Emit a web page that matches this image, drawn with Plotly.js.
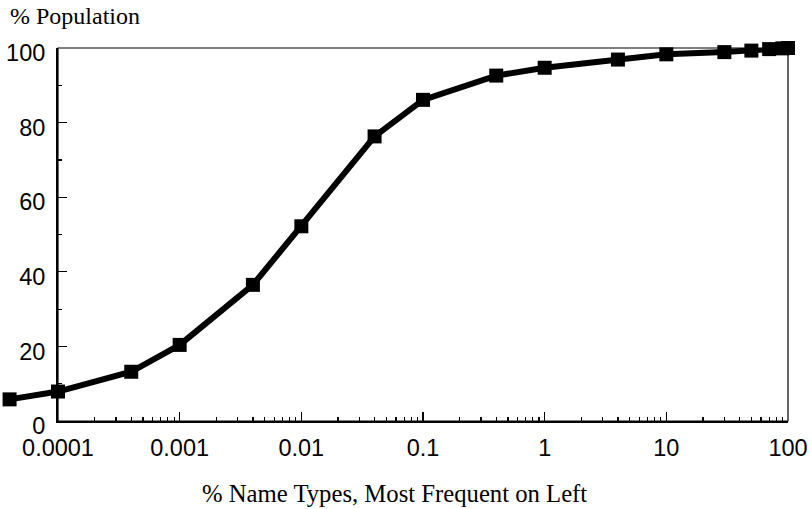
<!DOCTYPE html>
<html>
<head>
<meta charset="utf-8">
<script src="https://cdn.plot.ly/plotly-3.0.1.min.js"></script>
<style>
html,body{margin:0;padding:0;background:#fff;}
#chart{width:812px;height:509px;}
</style>
</head>
<body>
<div id="chart"></div>
<script>
// Data
const nameTypesPct = [0.00004, 0.0001, 0.0004, 0.001, 0.004, 0.01, 0.04, 0.1, 0.4, 1, 4, 10, 30, 50, 70, 90, 100];
const populationPct = [5.8, 7.9, 13.2, 20.4, 36.5, 52.2, 76.3, 86.1, 92.6, 94.7, 96.9, 98.3, 98.9, 99.3, 99.7, 99.9, 100];
const xTickVals = [0.0001, 0.001, 0.01, 0.1, 1, 10, 100];
const xTickText = ['0.0001', '0.001', '0.01', '0.1', '1', '10', '100'];
const yTickVals = [0, 20, 40, 60, 80, 100];
const yTickText = ['0', '20', '40', '60', '80', '100'];

const W = 812, H = 509;
const axL = 58, axR = 788;            // plot area in px
const decadePx = (axR - axL) / 6;
const x2Min = 2 - axR / decadePx;       // wider hidden axis so the curve may extend left of the y axis

const curve = {
  x: nameTypesPct,
  y: populationPct,
  xaxis: 'x2',
  yaxis: 'y',
  mode: 'lines+markers',
  line: {color: '#000', width: 6, shape: 'linear'},
  marker: {symbol: 'square', size: 14, color: '#000'},
  cliponaxis: false,
  hoverinfo: 'skip'
};
// empty trace that only registers the visible axes' subplot
const frameHolder = {x: [], y: [], xaxis: 'x', yaxis: 'y', type: 'scatter', mode: 'none', hoverinfo: 'skip'};

const tickFont = {family: 'Liberation Sans, Arial, sans-serif', size: 23.5, color: '#000'};
const titleFont = {family: 'Liberation Serif, Times New Roman, serif', size: 24, color: '#000'};

const layout = {
  width: W, height: H,
  margin: {l: 0, r: 0, t: 48, b: 88, pad: 0},
  paper_bgcolor: '#fff',
  plot_bgcolor: 'rgba(0,0,0,0)',
  showlegend: false,
  xaxis: {
    type: 'log',
    domain: [axL / W, axR / W],
    range: [-4, 2],
    autorange: false,
    anchor: 'y',
    tickmode: 'array',
    tickvals: xTickVals,
    ticktext: xTickText,
    ticks: 'inside',
    ticklen: 9,
    tickwidth: 1.2,
    tickcolor: '#000',
    minor: {dtick: 'D1', ticks: 'inside', ticklen: 4, tickwidth: 1.2, tickcolor: '#000', showgrid: false},
    showgrid: false,
    zeroline: false,
    showline: true,
    linewidth: 2,
    linecolor: '#000',
    tickfont: tickFont,
    ticklabelstandoff: 5,
    automargin: false,
    fixedrange: true
  },
  xaxis2: {
    type: 'log',
    domain: [0, axR / W],
    range: [x2Min, 2],
    autorange: false,
    anchor: 'y',
    visible: false,
    fixedrange: true
  },
  yaxis: {
    range: [0, 100],
    autorange: false,
    anchor: 'x',
    tickmode: 'array',
    tickvals: yTickVals,
    ticktext: yTickText,
    ticks: 'inside',
    ticklen: 9,
    tickwidth: 1.2,
    tickcolor: '#000',
    minor: {dtick: 10, ticks: 'inside', ticklen: 4, tickwidth: 1.2, tickcolor: '#000', showgrid: false},
    showgrid: false,
    zeroline: false,
    showline: true,
    linewidth: 2,
    linecolor: '#000',
    tickfont: tickFont,
    ticklabelstandoff: 6,
    ticklabelshift: 5,
    automargin: false,
    fixedrange: true
  },
  shapes: [
    {type: 'rect', xref: 'x domain', yref: 'y domain', x0: 0, x1: 1, y0: 0, y1: 1,
     line: {color: '#000', width: 1.2}, fillcolor: 'rgba(0,0,0,0)', layer: 'above'}
  ],
  annotations: [
    {text: '% Population', xref: 'paper', yref: 'paper', x: 8 / W, xanchor: 'left',
     y: (421 - 16) / 373, yanchor: 'middle', showarrow: false, font: titleFont},
    {text: '% Name Types, Most Frequent on Left', xref: 'paper', yref: 'paper', x: 394 / W, xanchor: 'center',
     y: (421 - 494) / 373, yanchor: 'middle', showarrow: false,
     font: Object.assign({}, titleFont, {size: 24.7})}
  ]
};

Plotly.newPlot('chart', [frameHolder, curve], layout, {displayModeBar: false, staticPlot: true});
</script>
</body>
</html>
